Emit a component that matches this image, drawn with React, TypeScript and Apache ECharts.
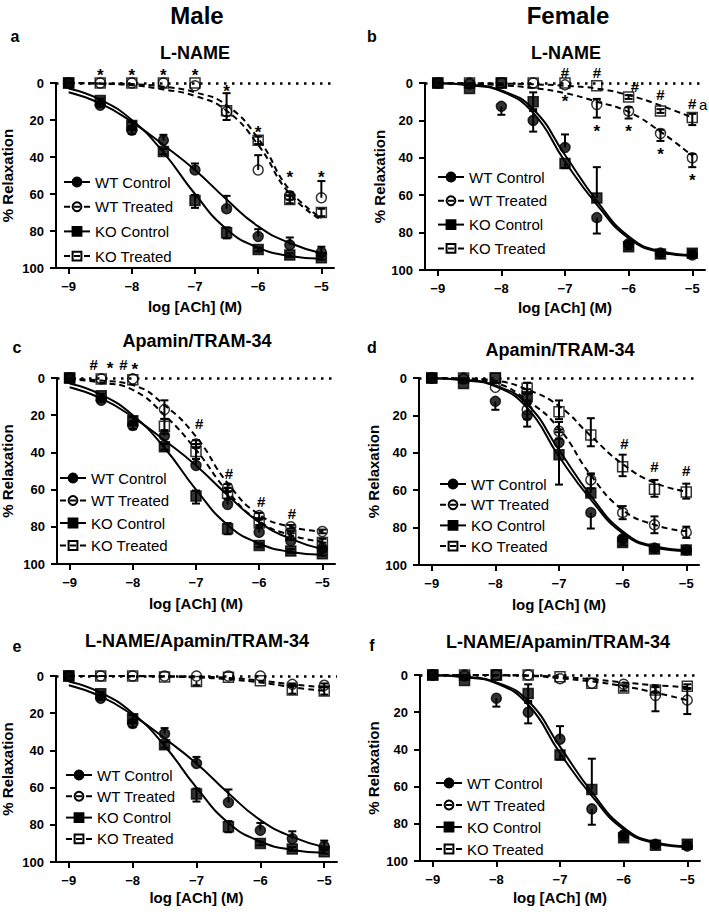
import React, { useEffect, useRef } from 'react';
import * as echarts from 'echarts';

const FONT = '"Liberation Sans", Arial, Helvetica, sans-serif';

const X_LOG = [-9, -8.5, -8, -7.5, -7, -6.5, -6, -5.5, -5];
const X_TICKS = [-9, -8, -7, -6, -5];
const SERIES_NAMES = ['WT Control', 'WT Treated', 'KO Control', 'KO Treated'];
const X_NAME = 'log [ACh] (M)';
const Y_NAME = '% Relaxation';

// points: [mean % relaxation, error bar toward 0, error bar toward 100]
const M_WT_CONTROL = [[0,0,0],[12,1,1],[25.5,2,2],[31,3,0],[47,3.5,0],[68,7,0],[83,4,0],[87.5,4,0],[91.5,3,0]];
const M_KO_CONTROL = [[0,0,0],[9.5,1,1],[23,2,2],[37,1.5,1.5],[63.5,3,4],[81,3,3],[90,1,1],[93,1,1],[94.5,1,1]];
const F_WT_CONTROL = [[0,0,0],[0.5,0,0],[12.5,0,4.5],[20,6,6],[34.5,7,0],[72,0,8.5],[86,1.5,1.5],[91,1,1],[92,1,1]];
const F_KO_CONTROL = [[0,0,0],[3,0,0],[0,0,0],[10,5,5],[43,0,2.5],[61.5,16.5,0],[87.5,1.5,1.5],[91.5,1,1],[91,1.5,1.5]];
const F_KO_CONTROL_D = [[0,0,0],[3,0,0],[0,0,0],[10,4,4],[41,12,16],[61.5,10,0],[88,1.5,1.5],[91.5,1,1],[92,1,1]];

const A_WT_TREATED = [[0,0,0],[0,0,0],[0,0,0],[0,0,0],[1.5,0,0],[15.5,10,0],[47,8,0],[61,2,2],[62,9,0]];
const A_KO_TREATED = [[0,0,0],[0,0,0],[0,0,0],[0,0,0],[0,0,0],[15,0,5],[31,2,2],[63,2,2],[70,2,2]];
const B_WT_TREATED = [[0,0,0],[0,0,0],[0,0,0],[0,0,0],[1,0,0],[11.5,3,7],[15,2,4],[27,2,4],[40,2,5]];
const B_KO_TREATED = [[0,0,0],[0,0,0],[0,0,0],[0,0,0],[0,0,0],[1.5,0,0],[7.5,1,1],[15,1,1],[18.5,2,4]];
const C_WT_TREATED = [[0,0,0],[0.5,0,0],[0.5,0,0],[17,5,5],[35.5,2,2],[59,2,2],[74,1.5,1.5],[80,1,1],[82.5,1,1]];
const C_KO_TREATED = [[0,0,0],[0.5,0,0],[1,0,0],[26,4,4],[39.5,4,4],[62,3,3],[78,2,2],[84.5,2,2],[88.5,2,2]];
const D_WT_TREATED = [[0,0,0],[0,0,0],[5,0,0],[17,5,5],[28.5,5,4],[54.5,3.5,4.5],[72,3.5,3.5],[78.5,4.5,4.5],[82.5,3,3]];
const D_KO_TREATED = [[0,0,0],[0,0,0],[0,0,0],[5.5,3,3],[18,6,4],[30.5,9,6],[47.5,6.5,5],[59.5,5,4],[61,4.5,3.5]];
const E_WT_TREATED = [[0,0,0],[0,0,0],[0,0,0],[0,0,0],[0,0,0],[0,0,0],[0,0,0],[4.5,0.5,0.5],[5,1,1]];
const E_KO_TREATED = [[0,0,0],[0,0,0],[0,0,0],[0.5,0,0],[3,0,2],[0.7,0,0],[2.5,0,0],[7.5,2,2],[8,2,2]];
const F_WT_TREATED = [[0,0,0],[0,0,0],[0,0,0],[0,0,0],[2,0,0],[4.5,0,0],[5,0,0],[11,4.5,8.5],[13.5,6,7.5]];
const F_KO_TREATED = [[0,0,0],[0,0,0],[0,0,0],[0,0,0],[1,0,0],[4.5,0,0],[7,1.5,1.5],[8,1.5,1.5],[6,1,1]];

// fitted curves read at each X_LOG
const FIT_M_WT_CONTROL = [5, 11, 21, 33.5, 47, 63, 77.5, 86.5, 92];
const FIT_M_KO_CONTROL = [3, 9, 20, 37.5, 60, 79, 89, 93.5, 95];
const FIT_F_WT_CONTROL = [0.2, 1, 4, 14, 38.5, 63, 82, 90, 92];
const FIT_F_KO_CONTROL = [0.2, 1.2, 4.5, 16, 42, 65, 83, 90.5, 92.5];
const FIT_A_WT_TREATED = [0, 0.4, 1.2, 3.5, 7, 15, 33.5, 60, 74];
const FIT_A_KO_TREATED = [0, 0.2, 0.6, 2, 5, 12, 30, 58, 73];
const FIT_B_WT_TREATED = [0, 0.4, 1.2, 2.7, 5.4, 10, 15.5, 26, 39];
const FIT_B_KO_TREATED = [0, 0.1, 0.3, 0.7, 1.5, 3, 6.5, 12, 18.5];
const FIT_C_WT_TREATED = [0.4, 1.4, 3.8, 14.5, 31.5, 56.5, 73.5, 80, 82.5];
const FIT_C_KO_TREATED = [0.7, 2.5, 6.4, 19.9, 38.6, 61, 77, 84.5, 88];
const FIT_D_WT_TREATED = [0, 0.5, 2.7, 12, 27, 52, 70.5, 78.5, 82];
const FIT_D_KO_TREATED = [0, 0.2, 1.4, 6.2, 15, 31, 46, 56, 60.7];
const FIT_E_WT_TREATED = [0, 0, 0, 0.1, 0.3, 1, 2.5, 4.5, 6];
const FIT_E_KO_TREATED = [0, 0, 0.1, 0.3, 0.8, 1.8, 3.5, 6, 8];
const FIT_F_WT_TREATED = [0, 0, 0.1, 0.4, 1.8, 3.5, 6, 9.5, 13.5];
const FIT_F_KO_TREATED = [0, 0, 0.1, 0.3, 1, 2.3, 4, 5.5, 6.5];

// significance marks: [log x, % value, text]
const NOTES_A: [number, number, string][] = [[-8.5,-6,'*'],[-8,-6,'*'],[-7.5,-6,'*'],[-7,-6,'*'],[-6.5,2.2,'*'],[-6,24.6,'*'],[-5.5,49,'*'],[-5,48.8,'*']];
const NOTES_B: [number, number, string][] = [[-7,-5.4,'#'],[-6.5,-5.4,'#'],[-5.9,1.8,'#'],[-5.5,6.3,'#'],[-5,11.1,'#'],[-4.83,12.2,'a'],[-7,8,'*'],[-6.5,23.7,'*'],[-6,23.7,'*'],[-5.5,36,'*'],[-5,50,'*']];
const NOTES_C: [number, number, string][] = [[-8.62,-7,'#'],[-8.36,-7.5,'*'],[-8.15,-7,'#'],[-7.97,-6.5,'*'],[-6.95,24.7,'#'],[-6.48,51.5,'#'],[-5.97,66.4,'#'],[-5.48,73,'#']];
const NOTES_D: [number, number, string][] = [[-5.97,34.8,'#'],[-5.5,47.3,'#'],[-5,49.5,'#']];

const STYLES = [
  { symbol: 'circle', filled: true, dashed: false },
  { symbol: 'circle', filled: false, dashed: true },
  { symbol: 'rect', filled: true, dashed: false },
  { symbol: 'rect', filled: false, dashed: true },
];

const PANELS = [
  { key: 'a', title: 'L-NAME', grid: { left: 56, top: 83, width: 278, height: 185 }, titleXY: [195, 53], letterXY: [15, 36],
    pts: [M_WT_CONTROL, A_WT_TREATED, M_KO_CONTROL, A_KO_TREATED], fits: [FIT_M_WT_CONTROL, FIT_A_WT_TREATED, FIT_M_KO_CONTROL, FIT_A_KO_TREATED],
    notes: NOTES_A, legend: { left: 63, top: 174, gap: 8.7 }, yNameX: 7, xNameY: 306 },
  { key: 'b', title: 'L-NAME', grid: { left: 425, top: 83, width: 280, height: 187 }, titleXY: [566, 53], letterXY: [372, 36],
    pts: [F_WT_CONTROL, B_WT_TREATED, F_KO_CONTROL, B_KO_TREATED], fits: [FIT_F_WT_CONTROL, FIT_B_WT_TREATED, FIT_F_KO_CONTROL, FIT_B_KO_TREATED],
    notes: NOTES_B, legend: { left: 437, top: 169, gap: 7.8 }, yNameX: 379, xNameY: 307 },
  { key: 'c', title: 'Apamin/TRAM-34', grid: { left: 57, top: 378, width: 278, height: 186 }, titleXY: [197, 341], letterXY: [17, 347],
    pts: [M_WT_CONTROL, C_WT_TREATED, M_KO_CONTROL, C_KO_TREATED], fits: [FIT_M_WT_CONTROL, FIT_C_WT_TREATED, FIT_M_KO_CONTROL, FIT_C_KO_TREATED],
    notes: NOTES_C, legend: { left: 59, top: 470, gap: 6.5 }, yNameX: 7, xNameY: 603 },
  { key: 'd', title: 'Apamin/TRAM-34', grid: { left: 419, top: 378, width: 280, height: 187 }, titleXY: [560, 350], letterXY: [372, 347],
    pts: [F_WT_CONTROL, D_WT_TREATED, F_KO_CONTROL_D, D_KO_TREATED], fits: [FIT_F_WT_CONTROL, FIT_D_WT_TREATED, FIT_F_KO_CONTROL, FIT_D_KO_TREATED],
    notes: NOTES_D, legend: { left: 439, top: 476, gap: 4.7 }, yNameX: 373, xNameY: 604 },
  { key: 'e', title: 'L-NAME/Apamin/TRAM-34', grid: { left: 56, top: 676, width: 281, height: 186 }, titleXY: [197, 641], letterXY: [17, 646],
    pts: [M_WT_CONTROL, E_WT_TREATED, M_KO_CONTROL, E_KO_TREATED], fits: [FIT_M_WT_CONTROL, FIT_E_WT_TREATED, FIT_M_KO_CONTROL, FIT_E_KO_TREATED],
    notes: [] as [number, number, string][], legend: { left: 65, top: 767, gap: 5.3 }, yNameX: 7, xNameY: 897 },
  { key: 'f', title: 'L-NAME/Apamin/TRAM-34', grid: { left: 420, top: 675, width: 280, height: 186 }, titleXY: [558, 642], letterXY: [372, 645],
    pts: [F_WT_CONTROL, F_WT_TREATED, F_KO_CONTROL, F_KO_TREATED], fits: [FIT_F_WT_CONTROL, FIT_F_WT_TREATED, FIT_F_KO_CONTROL, FIT_F_KO_TREATED],
    notes: [] as [number, number, string][], legend: { left: 435, top: 775, gap: 6 }, yNameX: 373, xNameY: 897 },
];

function fmtTick(v: number) {
  const r = Math.round(v);
  return r < 0 ? '\u2212' + Math.abs(r) : String(r);
}

function buildOption() {
  const grid: any[] = [];
  const xAxis: any[] = [];
  const yAxis: any[] = [];
  const series: any[] = [];
  const legend: any[] = [];
  const graphic: any[] = [];

  const axisText = { fontSize: 13, fontWeight: 'bold', color: '#000', fontFamily: FONT };
  const txt = (text: string, x: number, y: number, font: string, rotation = 0) => ({
    type: 'text', x, y, rotation, silent: true,
    style: { text, font, fill: '#000', align: 'center', verticalAlign: 'middle' },
  });

  graphic.push(txt('Male', 197, 15, `bold 24px ${FONT}`));
  graphic.push(txt('Female', 568, 15, `bold 24px ${FONT}`));

  PANELS.forEach((p, i) => {
    grid.push({ ...p.grid, containLabel: false, outerBoundsMode: 'none' });
    xAxis.push({
      type: 'value', gridIndex: i, min: -9.2, max: -4.8,
      axisLine: { show: true, onZero: false, lineStyle: { color: '#000', width: 2 } },
      axisTick: { show: true, length: 6, lineStyle: { color: '#000', width: 2 }, customValues: X_TICKS },
      axisLabel: { ...axisText, margin: 12, customValues: X_TICKS, formatter: (v: number) => fmtTick(v) },
      splitLine: { show: false },
    });
    yAxis.push({
      type: 'value', gridIndex: i, min: 0, max: 100, interval: 20, inverse: true,
      axisLine: { show: true, onZero: false, lineStyle: { color: '#000', width: 2 } },
      axisTick: { show: true, length: 6, lineStyle: { color: '#000', width: 2 } },
      axisLabel: { ...axisText, margin: 12 },
      splitLine: { show: false },
    });

    const g = p.grid;
    const xMid = g.left + (2.2 / 4.4) * g.width;
    graphic.push(txt(X_NAME, xMid, p.xNameY, `bold 15px ${FONT}`));
    graphic.push(txt(Y_NAME, p.yNameX, g.top + g.height / 2, `bold 15px ${FONT}`, Math.PI / 2));
    graphic.push(txt(p.title, p.titleXY[0], p.titleXY[1], `bold 18px ${FONT}`));
    graphic.push(txt(p.key, p.letterXY[0], p.letterXY[1], `bold 16px ${FONT}`));

    STYLES.forEach((st, s) => {
      const itemStyle = { color: st.filled ? '#000' : 'rgba(255,255,255,0)', borderColor: '#000', borderWidth: 1.5 };
      const line: any = {
        type: 'line', name: SERIES_NAMES[s], xAxisIndex: i, yAxisIndex: i,
        data: X_LOG.map((x, j) => [x, p.fits[s][j]]),
        smooth: 0.5,
        symbol: st.symbol, symbolSize: 9, showSymbol: false,
        lineStyle: { color: '#000', width: 2, type: st.dashed ? [6, 4] : 'solid' },
        itemStyle, z: 2, silent: true, animation: false,
      };
      if (s === 0) {
        line.markLine = {
          silent: true, symbol: 'none', label: { show: false },
          lineStyle: { color: '#000', width: 2.5, type: [2.5, 5.5] },
          data: [{ yAxis: 0 }],
        };
      }
      series.push(line);
      series.push({
        type: 'scatter', name: `${p.key} ${SERIES_NAMES[s]} data`, xAxisIndex: i, yAxisIndex: i,
        data: X_LOG.map((x, j) => [x, p.pts[s][j][0]]),
        symbol: st.symbol, symbolSize: 10, itemStyle, z: 4, clip: false, silent: true,
      });
    });

    const errRows: number[][] = [];
    p.pts.forEach((arr) => arr.forEach((v, j) => errRows.push([X_LOG[j], v[0], v[1], v[2]])));
    series.push({
      type: 'custom', name: `${p.key} error`, xAxisIndex: i, yAxisIndex: i, z: 3, silent: true,
      data: errRows, encode: { x: 0, y: 1 },
      renderItem: (params: any, api: any) => {
        const x = api.value(0), m = api.value(1), up = api.value(2), dn = api.value(3);
        const children: any[] = [];
        if (up > 0 || dn > 0) {
          const t = api.coord([x, m - up]);
          const b = api.coord([x, m + dn]);
          const st = { stroke: '#000', lineWidth: 2 };
          children.push({ type: 'line', shape: { x1: t[0], y1: t[1], x2: b[0], y2: b[1] }, style: st });
          if (up > 0) children.push({ type: 'line', shape: { x1: t[0] - 4, y1: t[1], x2: t[0] + 4, y2: t[1] }, style: st });
          if (dn > 0) children.push({ type: 'line', shape: { x1: b[0] - 4, y1: b[1], x2: b[0] + 4, y2: b[1] }, style: st });
        }
        return { type: 'group', children };
      },
    });

    if (p.notes.length) {
      const notes = p.notes;
      series.push({
        type: 'custom', name: `${p.key} notes`, xAxisIndex: i, yAxisIndex: i, z: 5, silent: true, clip: false,
        data: notes.map((n) => [n[0], n[1]]), encode: { x: 0, y: 1 },
        renderItem: (params: any, api: any) => {
          const n = notes[params.dataIndex];
          const c = api.coord([n[0], n[1]]);
          const isStar = n[2] === '*';
          const size = isStar ? 17 : 15;
          const dy = isStar ? 4 : n[2] === 'a' ? -1.5 : 0;
          return {
            type: 'text', x: c[0], y: c[1] + dy,
            style: { text: n[2], font: `${n[2] === 'a' ? '' : 'bold '}${size}px ${FONT}`, fill: '#000', align: 'center', verticalAlign: 'middle' },
          };
        },
      });
    }

    legend.push({
      data: SERIES_NAMES, orient: 'vertical', left: p.legend.left, top: p.legend.top,
      itemWidth: 26, itemHeight: 11, itemGap: p.legend.gap, selectedMode: false, padding: 0,
      textStyle: { fontSize: 15, color: '#000', fontFamily: FONT, lineHeight: 16 },
    });
  });

  return { animation: false, backgroundColor: '#fff', grid, xAxis, yAxis, series, legend, graphic };
}

export default function App() {
  const ref = useRef<HTMLDivElement>(null);
  useEffect(() => {
    document.body.style.margin = '0';
    if (!ref.current) return;
    const chart = echarts.init(ref.current, null, { renderer: 'svg' });
    chart.setOption(buildOption() as any);
    return () => chart.dispose();
  }, []);
  return <div ref={ref} style={{ width: 709, height: 912 }} />;
}
